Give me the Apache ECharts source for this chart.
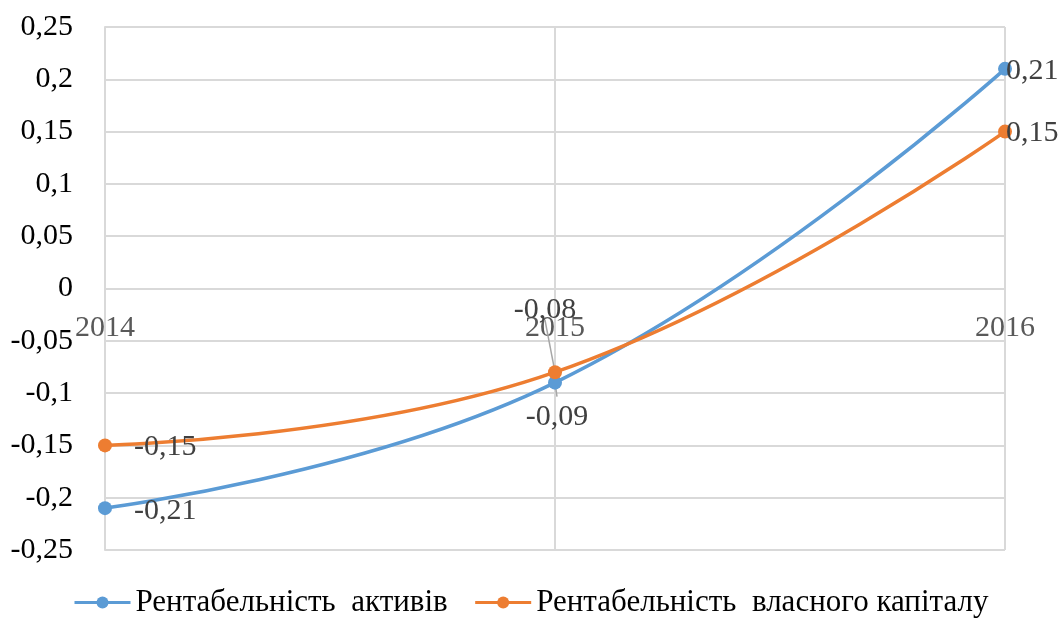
<!DOCTYPE html>
<html>
<head>
<meta charset="utf-8">
<script src="https://cdn.jsdelivr.net/npm/echarts@6/dist/echarts.min.js"></script>
<style>
html,body{margin:0;padding:0;background:#fff;}
#chart{width:1058px;height:623px;}
</style>
</head>
<body>
<div id="chart"></div>
<script>
const years = ['2014', '2015', '2016'];
const assetsReturn = [-0.21, -0.09, 0.21];
const equityReturn = [-0.15, -0.08, 0.15];
const seriesNames = ['Рентабельність  активів', 'Рентабельність  власного капіталу'];

const FONT = '"Liberation Serif", "Times New Roman", serif';
const fmt = v => String(Math.round(v * 100) / 100).replace('.', ',');

const chart = echarts.init(document.getElementById('chart'));

function labelled(values, positions) {
  return values.map((v, i) => ({ value: v, label: positions[i] }));
}

const labelBase = {
  show: true,
  color: '#404040',
  fontFamily: FONT,
  fontSize: 30,
  formatter: p => fmt(p.value)
};

chart.setOption({
  animation: false,
  grid: { left: 105, right: 53, top: 27, bottom: 73 },
  legend: {
    bottom: 0,
    left: 68,
    itemWidth: 56,
    itemHeight: 15,
    itemGap: 26,
    lineStyle: { width: 3 },
    textStyle: { fontFamily: FONT, fontSize: 31, color: '#000' },
    data: seriesNames
  },
  xAxis: {
    type: 'category',
    data: years,
    boundaryGap: false,
    axisLine: { show: false, onZero: false },
    axisTick: { show: false },
    // category labels sit just under the zero line
    axisLabel: { color: '#595959', fontFamily: FONT, fontSize: 30, margin: -237 },
    splitLine: { show: true, lineStyle: { color: '#d9d9d9', width: 2 } }
  },
  yAxis: {
    type: 'value',
    min: -0.25,
    max: 0.25,
    interval: 0.05,
    axisLine: { show: true, lineStyle: { color: '#d9d9d9', width: 2 } },
    axisTick: { show: false },
    axisLabel: { color: '#000', fontFamily: FONT, fontSize: 30, margin: 32, formatter: fmt },
    splitLine: { lineStyle: { color: '#d9d9d9', width: 2 } }
  },
  series: [
    {
      name: seriesNames[0],
      type: 'line',
      smooth: 0.45,
      symbol: 'circle',
      symbolSize: 14,
      color: '#5B9BD5',
      lineStyle: { width: 3.5 },
      label: labelBase,
      data: labelled(assetsReturn, [
        { position: 'right', distance: 22, offset: [0, 3] },
        { position: 'bottom', distance: 12, offset: [2, 0] },
        { position: 'right', distance: -6, offset: [0, 2] }
      ]),
      z: 2
    },
    {
      name: seriesNames[1],
      type: 'line',
      smooth: 0.45,
      symbol: 'circle',
      symbolSize: 14,
      color: '#ED7D31',
      lineStyle: { width: 3.5 },
      label: labelBase,
      data: labelled(equityReturn, [
        { position: 'right', distance: 22, offset: [0, 2] },
        { position: 'top', distance: 40, offset: [-10, 0] },
        { position: 'right', distance: -6, offset: [0, 2] }
      ]),
      z: 3
    }
  ]
});

// thin leader lines joining the 2015 labels to their points
const pEq = chart.convertToPixel({ seriesIndex: 1 }, [1, equityReturn[1]]);
const pAs = chart.convertToPixel({ seriesIndex: 0 }, [1, assetsReturn[1]]);
const leader = { stroke: '#a6a6a6', lineWidth: 1.5 };
chart.setOption({
  graphic: [
    { type: 'line', z: 1, shape: { x1: pEq[0] - 10, y1: pEq[1] - 52, x2: pEq[0], y2: pEq[1] }, style: leader },
    { type: 'line', z: 1, shape: { x1: pAs[0], y1: pAs[1], x2: pAs[0] + 2, y2: pAs[1] + 14 }, style: leader }
  ]
});
</script>
</body>
</html>
